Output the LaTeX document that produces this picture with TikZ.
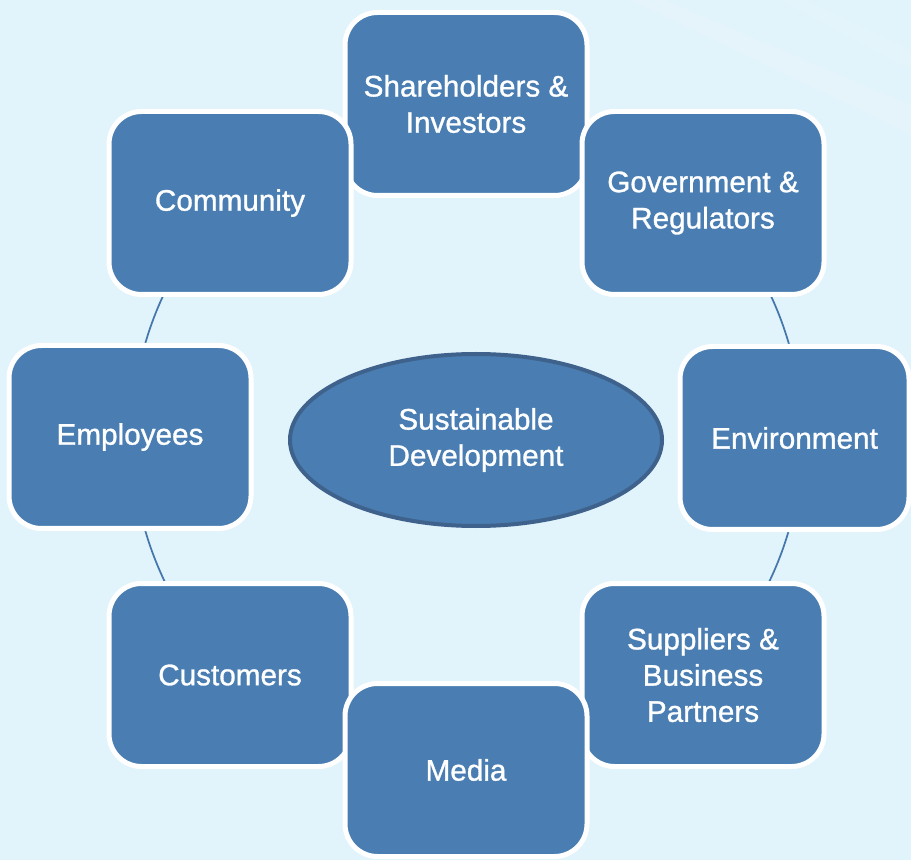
\documentclass[tikz,border=0pt]{standalone}
\usepackage{fontspec}
\setmainfont{Liberation Sans}
\newfontfamily\boxfont{Liberation Sans}[FakeBold=1]
\usetikzlibrary{shapes.geometric}
\definecolor{skyback}{HTML}{E1F3FB}
\definecolor{boxblue}{HTML}{4A7EB2}
\definecolor{ringblue}{HTML}{4677AC}
\definecolor{rimblue}{HTML}{3E628C}
\begin{document}
\begin{tikzpicture}[
    party/.style={draw=white, line width=0.100cm, fill=boxblue, rounded corners=0.650cm,
                  minimum width=4.840000cm, minimum height=3.660000cm,
                  text=white, align=center, inner sep=0pt,
                  font=\boxfont\fontsize{16.9}{20.6}\selectfont},
    goal/.style={ellipse, draw=rimblue, line width=0.080cm, fill=boxblue,
                 minimum width=7.440000cm, minimum height=3.440000cm,
                 text=white, align=center, inner sep=0pt,
                 font=\boxfont\fontsize{16.9}{20.6}\selectfont}]
                % Background
                \useasboundingbox (0,0) rectangle (18.220000,17.200000);
                \fill [skyback] (0,0) rectangle (18.220000,17.200000);
                \fill [white, opacity=0.15] (12.600000,17.200000) -- (13.300000,17.200000) -- (18.220000,15.100000) -- (18.220000,14.500000) -- cycle;%
                \fill [white, opacity=0.10] (15.600000,17.200000) -- (16.100000,17.200000) -- (18.220000,16.200000) -- (18.220000,15.800000) -- cycle;%
                
                % Drawing ring round the centre
                \draw [ringblue, line width=0.035cm] (9.340000,8.460000) circle (6.700000);%
                
                % Drawing centre ellipse
                \node [goal] (sd) at (9.520000,8.400000) {Sustainable\\Development};%
                
                % Drawing lower boxes
                \node [party] (cust) at (4.600000,3.700000) {Customers};%
                \node [party] (supp) at (14.060000,3.700000) {Suppliers \&\\Business\\ Partners};%
                \node [party, minimum height=3.460000cm] (media) at (9.320000,1.800000) {Media};%
                
                % Drawing upper boxes
                \node [party] (share) at (9.320000,15.120000) {Shareholders \&\\Investors};%
                \node [party] (comm) at (4.600000,13.140000) {Community};%
                \node [party] (gov) at (14.060000,13.140000) {Government \&\\Regulators};%
                
                % Drawing side boxes
                \node [party] (empl) at (2.600000,8.460000) {Employees};%
                \node [party, minimum width=4.580000cm] (env) at (15.890000,8.440000) {Environment};%
            \end{tikzpicture}
\end{document}
